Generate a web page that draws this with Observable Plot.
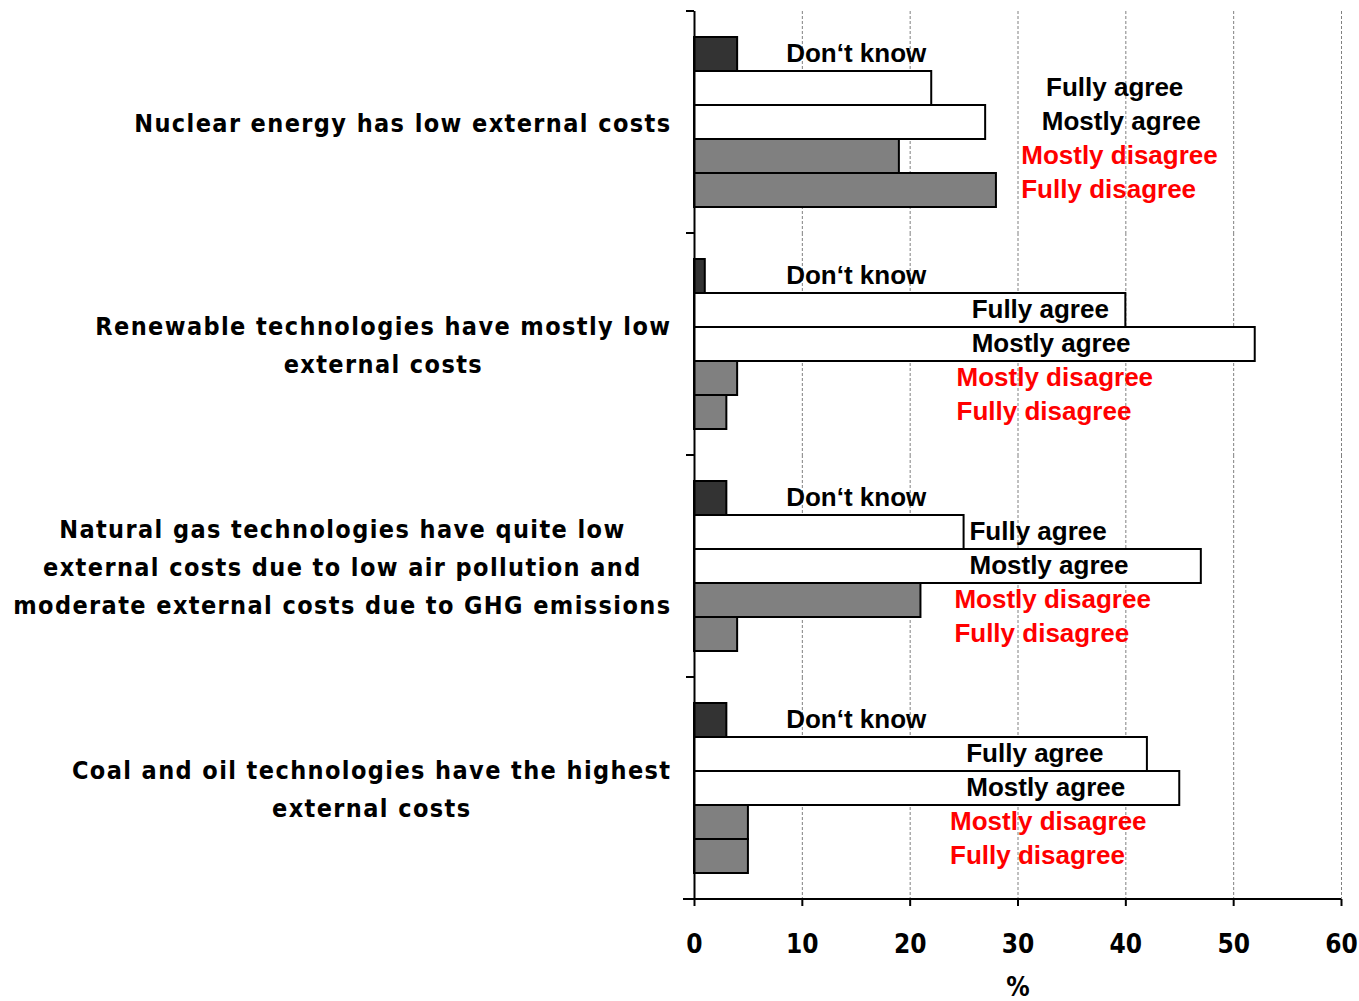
<!DOCTYPE html>
<html>
<head>
<meta charset="utf-8">
<script src="https://cdn.jsdelivr.net/npm/d3@7"></script>
<script src="https://cdn.jsdelivr.net/npm/@observablehq/plot@0.6"></script>
<style>
  html, body { margin: 0; padding: 0; background: #ffffff; }
</style>
</head>
<body>
<div id="chart"></div>
<script>
// ---- data ----
const categories = [
  "Nuclear energy has low external costs",
  "Renewable technologies have mostly low\nexternal costs",
  "Natural gas technologies have quite low\nexternal costs due to low air pollution and\nmoderate external costs due to GHG emissions",
  "Coal and oil technologies have the highest\nexternal costs"
];
const series = ["Don‘t know", "Fully agree", "Mostly agree", "Mostly disagree", "Fully disagree"];
const nuclearValues   = [4, 22, 27, 19, 28];
const renewableValues = [1, 40, 52, 4, 3];
const gasValues       = [3, 25, 47, 21, 4];
const coalValues      = [3, 42, 45, 5, 5];
// where each series label starts, in % (annotation anchors)
const nuclearLabelAt   = [8.5, 32.6, 32.2, 30.3, 30.3];
const renewableLabelAt = [8.5, 25.7, 25.7, 24.3, 24.3];
const gasLabelAt       = [8.5, 25.5, 25.5, 24.1, 24.1];
const coalLabelAt      = [8.5, 25.2, 25.2, 23.7, 23.7];
const xTicks = [0, 10, 20, 30, 40, 50, 60];

const allValues = [nuclearValues, renewableValues, gasValues, coalValues];
const allLabelAt = [nuclearLabelAt, renewableLabelAt, gasLabelAt, coalLabelAt];
const rows = categories.flatMap((c, i) => series.map((s, j) => ({
  category: c, series: s, value: allValues[i][j], labelAt: allLabelAt[i][j]
})));

const barFill = ["#333333", "#ffffff", "#ffffff", "#808080", "#808080"];
const labelFill = ["#000000", "#000000", "#000000", "#ff0000", "#ff0000"];
const narrow = "'Liberation Sans Narrow', 'DejaVu Sans Condensed', 'Liberation Sans', Arial, sans-serif";
const wide = "'Liberation Sans', Arial, sans-serif";

const plot = Plot.plot({
  width: 1359,
  height: 1001,
  marginLeft: 694,
  marginRight: 18,
  marginTop: 10,
  marginBottom: 101,
  style: { background: "#ffffff", color: "#000000", fontFamily: narrow },
  x: { domain: [0, 60] },
  y: { domain: series, paddingInner: 0, paddingOuter: 0.7, axis: null },
  fy: { domain: categories, padding: 0 },
  color: { domain: series, range: barFill },
  marks: [
    Plot.ruleX(xTicks.filter(d => d > 0), { stroke: "#808080", strokeWidth: 1, strokeDasharray: "3,2" }),
    Plot.barX(rows, { x: "value", y: "series", fy: "category", fill: "series", stroke: "#000000", strokeWidth: 2 }),
    Plot.ruleX([0], { stroke: "#000000", strokeWidth: 2 }),
    Plot.text(rows, {
      x: "labelAt", y: "series", fy: "category", text: "series", textAnchor: "start",
      fill: d => labelFill[series.indexOf(d.series)], dy: -1,
      fontSize: 26, fontWeight: "bold", fontFamily: wide
    }),
    Plot.axisFy({
      anchor: "left", tickSize: 0, tickPadding: 23, label: null, dy: -3,
      fontSize: 25, fontWeight: "bold", lineHeight: 1.52, fontFamily: narrow
    }),
    Plot.axisX({
      anchor: "bottom", ticks: xTicks, tickSize: 7, tickPadding: 28, strokeWidth: 2,
      fontSize: 26, fontWeight: "bold", fontFamily: narrow,
      label: "%", labelAnchor: "center", labelArrow: "none", labelOffset: 96
    })
  ]
});

document.getElementById("chart").appendChild(plot);

const svg = d3.select(plot.tagName.toLowerCase() === "svg" ? plot : plot.querySelector("svg"));
// letter spacing of the category labels, then centre each as a block keeping its right edge
svg.selectAll('g[aria-label="fy-axis tick label"] text').each(function () {
  this.style.letterSpacing = "1.4px";
  const w = this.getBBox().width;
  this.setAttribute("text-anchor", "middle");
  const t = this.getAttribute("transform") || "";
  this.setAttribute("transform", t + ` translate(${-w / 2},0)`);
});

// group separator ticks on the category axis and the bottom axis line
const fy = plot.scale("fy");
const xs = plot.scale("x");
const x0 = xs.apply(0);
const x60 = xs.apply(60);
const gLines = svg.append("g").attr("stroke", "#000").attr("stroke-width", 2);
categories.forEach(c => {
  const yTop = fy.apply(c);
  gLines.append("line").attr("x1", x0 - 8).attr("x2", x0).attr("y1", yTop).attr("y2", yTop);
});
const yBottom = fy.apply(categories[categories.length - 1]) + fy.bandwidth;
gLines.append("line").attr("x1", x0 - 11).attr("x2", x60).attr("y1", yBottom).attr("y2", yBottom);
</script>
</body>
</html>
